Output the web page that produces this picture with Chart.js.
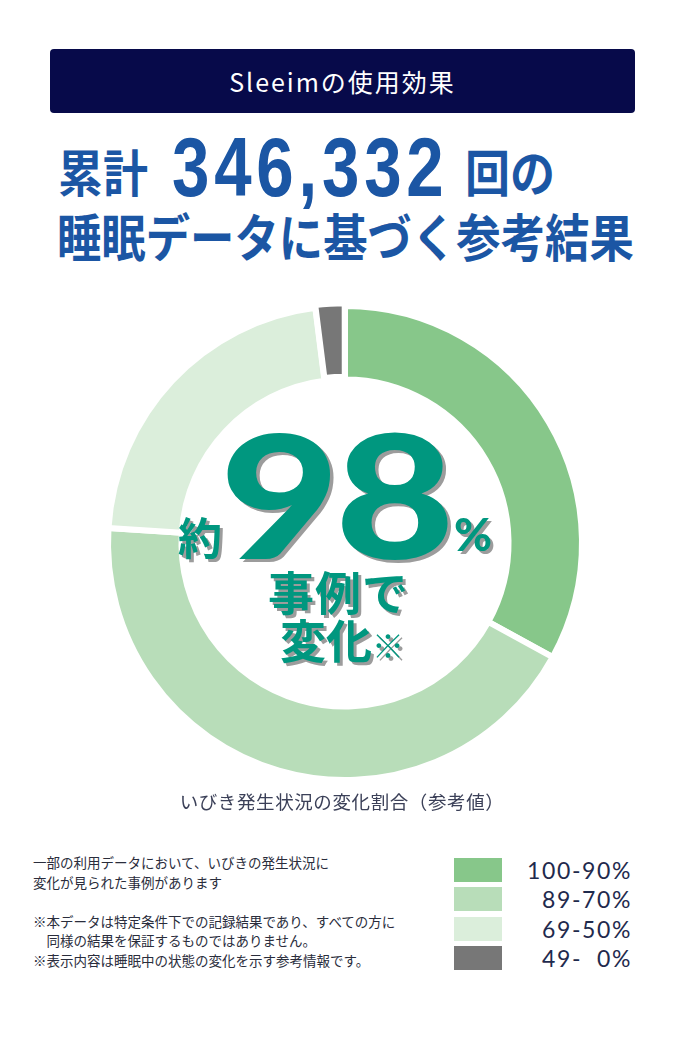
<!DOCTYPE html>
<html lang="ja">
<head>
<meta charset="utf-8">
<script src="https://cdn.jsdelivr.net/npm/chart.js@4.4.1/dist/chart.umd.min.js"></script>
<style>
  html, body { margin: 0; padding: 0; background: #fff; }
  body { width: 684px; height: 1045px; position: relative; overflow: hidden;
         font-family: "Noto Sans CJK JP", "Noto Sans", sans-serif; }
  .abs { position: absolute; white-space: pre; }
  #header { left: 50px; top: 49px; width: 585px; height: 64px; background: #070a4a;
            border-radius: 4px; color: #fff; font-size: 25px; text-align: center;
            line-height: 64px; letter-spacing: 2px; }
  .blue { color: #1b56a4; font-weight: 700; }
  .teal { color: #00977f; font-weight: 700; text-shadow: 3px 3px 0 #9c9c9c; }
  #chartBox { position: absolute; left: 95px; top: 293px; width: 500px; height: 500px; }
  #caption { left: 0; width: 684px; top: 788px; text-align: center; font-size: 18.5px;
             color: #3b4058; letter-spacing: 0.6px; }
  #notes { left: 33px; top: 853px; font-size: 13.5px; line-height: 19.5px; color: #2a2d3c; }
  #legend { left: 454px; top: 858px; width: 176px; }
  .row { display: flex; align-items: center; height: 24px; margin-bottom: 5.3px; }
  .sw { width: 48px; height: 24px; flex: none; }
  .lab { flex: 1; text-align: right; font-family: Lato, "Noto Sans", sans-serif; font-weight: 400;
         font-size: 23px; letter-spacing: 1.6px; color: #1f2a4d; white-space: pre; margin-right: -2px; }
</style>
</head>
<body>
<div id="header" class="abs">Sleeimの使用効果</div>

<div class="abs blue" style="left:58px; top:140px; font-size:50px; line-height:60px; transform:scaleX(0.9); transform-origin:left;">累計</div>
<div class="abs blue" style="left:172px; top:122px; font-family:'Liberation Sans',Arial,sans-serif; font-size:84px; line-height:90px; letter-spacing:6px; transform:scaleX(0.8); transform-origin:left;">346,332</div>
<div class="abs blue" style="left:465px; top:140px; font-size:50px; line-height:60px; transform:scaleX(0.9); transform-origin:left;">回の</div>
<div class="abs blue" style="left:57px; top:205px; font-size:51px; line-height:60px; transform:scaleX(0.87); transform-origin:left;">睡眠データに基づく参考結果</div>

<div id="chartBox"><canvas id="donut"></canvas></div>

<div class="abs teal" style="left:178px; top:508px; font-size:44px; line-height:56px; z-index:2;">約</div>
<div class="abs teal" style="left:220px; top:398px; font-family:Lato,'Noto Sans',sans-serif; font-weight:900; font-size:172px; line-height:190px; letter-spacing:-4px; transform:scaleX(1.2); transform-origin:left; z-index:2;">98</div>
<div class="abs teal" style="left:454px; top:506px; font-family:Lato,'Noto Sans',sans-serif; font-weight:900; font-size:46px; line-height:56px; z-index:2;">%</div>
<div class="abs teal" style="left:268px; top:562px; font-size:46px; line-height:56px; letter-spacing:1px; z-index:2;">事例で</div>
<div class="abs teal" style="left:280px; top:610px; font-size:46px; line-height:56px; z-index:2;">変化<span style="font-size:32px;">※</span></div>

<div id="caption" class="abs">いびき発生状況の変化割合（参考値）</div>

<div id="notes" class="abs">一部の利用データにおいて、いびきの発生状況に
変化が見られた事例があります

※本データは特定条件下での記録結果であり、すべての方に
　同様の結果を保証するものではありません。
※表示内容は睡眠中の状態の変化を示す参考情報です。</div>

<div id="legend" class="abs"></div>

<script>
// いびき変化率の区分と割合（%）
const categories = ['100-90%', '89-70%', '69-50%', '49-  0%'];
const shares = [33, 43, 22, 2];
const sliceColors = ['#87c78a', '#b8ddb9', '#dbeedb', '#777777'];
const sliceOffsets = [0, 0, 0, 6];

function buildLegend() {
    const box = document.getElementById('legend');
    categories.forEach((label, i) => {
        const row = document.createElement('div');
        row.className = 'row';
        row.innerHTML = `<div class="sw" style="background:${sliceColors[i]}"></div><div class="lab">${label}</div>`;
        box.appendChild(row);
    });
}

function initDonut() {
    const ctx = document.getElementById('donut').getContext('2d');
    new Chart(ctx, {
        type: 'doughnut',
        data: {
            labels: categories,
            datasets: [{
                data: shares,
                backgroundColor: sliceColors,
                borderColor: '#ffffff',
                borderWidth: 6,
                offset: sliceOffsets,
                hoverOffset: 0
            }]
        },
        options: {
            responsive: true,
            maintainAspectRatio: false,
            animation: false,
            radius: 237,
            cutout: '69%',
            plugins: { legend: { display: false }, tooltip: { enabled: false } }
        }
    });
}

document.addEventListener('DOMContentLoaded', () => {
    buildLegend();
    initDonut();
});
</script>
</body>
</html>
